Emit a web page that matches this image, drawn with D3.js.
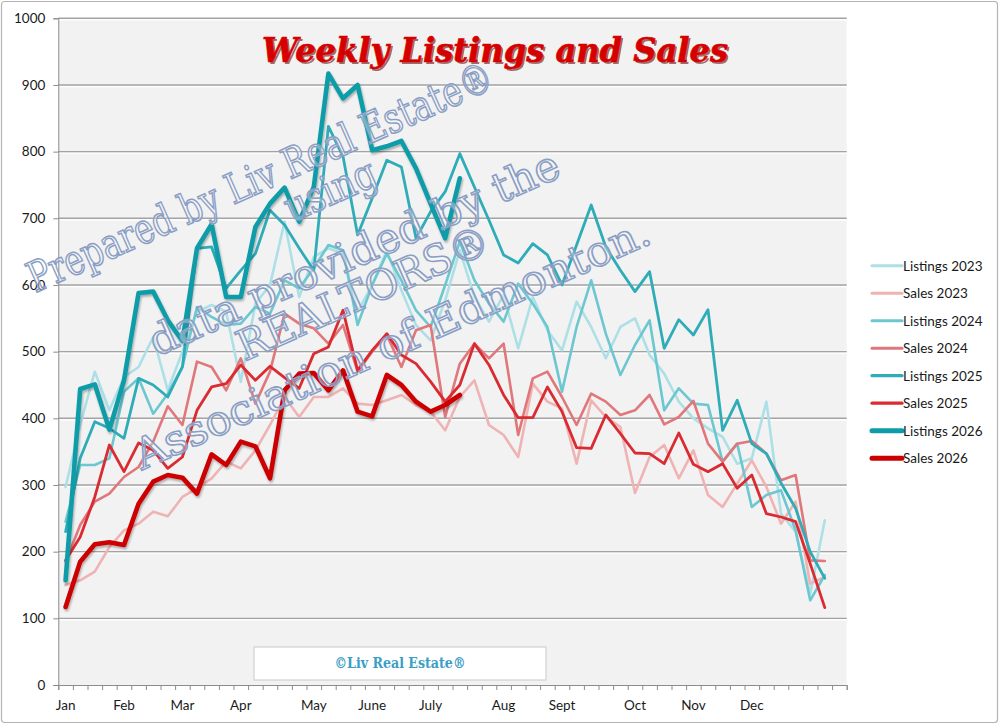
<!DOCTYPE html>
<html>
<head>
<meta charset="utf-8">
<script src="https://cdn.jsdelivr.net/npm/d3@7"></script>
<style>
  body { margin: 0; background: #fff; }
  svg { display: block; }
  text { font-family: Lato, "Liberation Sans", sans-serif; }
</style>
</head>
<body>
<svg id="chart" width="1000" height="726"></svg>
<script>
// ---- data ----
const weekCount = 54;
const months = ["Jan", "Feb", "Mar", "Apr", "May", "June", "July", "Aug", "Sept", "Oct", "Nov", "Dec"];
const monthWeeks = [0, 4, 8, 12, 17, 21, 25, 30, 34, 39, 43, 47];
const yTicks = d3.range(0, 1001, 100);

const seriesNames = ["Listings 2023", "Sales 2023", "Listings 2024", "Sales 2024",
                     "Listings 2025", "Sales 2025", "Listings 2026", "Sales 2026"];

const listings2023 = [297,390,470,412,462,477,522,442,500,560,570,560,455,572,600,695,582,642,655,647,
                      560,600,652,592,540,517,577,652,582,545,585,505,582,532,502,575,537,490,537,550,
                      495,467,425,400,385,372,332,340,425,257,230,137,247];
const sales2023 = [150,157,170,207,232,242,260,253,282,295,310,335,325,352,390,432,402,432,432,445,
                   422,420,427,435,420,410,382,432,457,390,375,342,452,425,415,332,427,402,387,288,
                   342,360,310,352,285,267,302,337,297,242,275,152,162];
const listings2024 = [245,330,330,340,440,460,407,437,477,567,552,540,542,567,557,607,595,625,660,652,
                      540,600,647,607,562,537,600,665,607,572,545,602,572,537,440,537,607,527,465,510,
                      547,412,445,422,420,335,362,267,285,292,232,127,165];
const sales2024 = [185,240,275,287,312,327,365,418,390,485,477,442,490,422,470,557,542,535,512,540,
                   470,500,525,477,532,540,402,482,512,490,512,375,460,470,432,390,437,425,405,412,
                   435,391,402,426,362,335,362,366,347,307,315,187,186];
const listings2025 = [230,340,395,385,370,460,450,432,477,655,657,595,622,647,712,690,655,622,838,793,
                      675,730,787,777,670,710,740,797,747,697,645,633,662,645,600,660,720,657,622,590,
                      620,505,548,525,563,382,427,362,347,303,265,200,160];
const sales2025 = [187,222,282,360,320,363,352,325,342,412,447,452,480,457,478,461,445,497,507,562,
                   472,502,527,495,482,455,425,450,512,480,435,401,401,447,410,356,355,405,377,348,
                   347,332,378,331,320,332,295,315,257,252,245,182,116];
const listings2026 = [157,444,451,383,457,588,590,547,516,655,691,582,582,687,722,746,695,747,917,880,
                      900,802,808,816,775,722,670,760];
const sales2026 = [117,185,211,214,210,272,305,315,311,287,346,330,365,358,310,442,467,468,442,472,
                   410,403,465,450,425,410,420,435];

const seriesValues = [listings2023, sales2023, listings2024, sales2024,
                      listings2025, sales2025, listings2026, sales2026];

const titleText = "Weekly Listings and Sales";
const watermarkLines = ["Prepared by Liv Real Estate®", "using", "data provided by the",
                        "REALTORS®", "Association of Edmonton."];
const creditText = "©Liv Real Estate®";

// ---- styles ----
const seriesColors = ["#ade0e6", "#f0b3b3", "#6cc7d1", "#e0777a",
                      "#2eacb8", "#d92b31", "#0d9ca8", "#cc0000"];
const seriesWidths = [2.6, 2.6, 2.6, 2.6, 2.8, 2.8, 4.6, 4.6];
const slab = "'DejaVu Serif Condensed', 'DejaVu Serif', serif";

const svg = d3.select("#chart");
const plot = { left: 58.3, right: 846.7, top: 18.3, bottom: 685 };

const x = d3.scaleBand().domain(d3.range(weekCount)).range([plot.left, plot.right]);
const xEdge = d3.scaleLinear().domain([0, weekCount]).range([plot.left, plot.right]);
const y = d3.scaleLinear().domain([0, 1000]).range([plot.bottom, plot.top]);

const defs = svg.append("defs");
const shadow = defs.append("filter").attr("id", "shadow")
  .attr("x", "-5%").attr("y", "-5%").attr("width", "110%").attr("height", "110%");
shadow.append("feDropShadow").attr("dx", 1).attr("dy", 2).attr("stdDeviation", 1.2)
  .attr("flood-color", "#000").attr("flood-opacity", 0.3);

// outer frame
svg.append("rect")
  .attr("x", 1.5).attr("y", 1.5).attr("width", 996).attr("height", 721).attr("rx", 3)
  .attr("fill", "#fff").attr("stroke", "#b4b4b4").attr("stroke-width", 1.2);

// plot background
svg.append("rect")
  .attr("x", plot.left).attr("y", plot.top)
  .attr("width", plot.right - plot.left).attr("height", plot.bottom - plot.top)
  .attr("fill", "#f2f2f2");

// gridlines
const grid = svg.append("g");
grid.selectAll("line.hi")
  .data(yTicks.filter(d => d > 0))
  .enter().append("line")
  .attr("class", "hi")
  .attr("x1", plot.left).attr("x2", plot.right)
  .attr("y1", d => y(d) + 1.6).attr("y2", d => y(d) + 1.6)
  .attr("stroke", "#fff").attr("stroke-width", 1.2);
grid.selectAll("line.gl")
  .data(yTicks.filter(d => d > 0))
  .enter().append("line")
  .attr("class", "gl")
  .attr("x1", plot.left).attr("x2", plot.right)
  .attr("y1", d => y(d)).attr("y2", d => y(d))
  .attr("stroke", "#a3a3a3").attr("stroke-width", 1.4);

// y axis
const yAxis = svg.append("g")
  .attr("transform", `translate(${plot.left},0)`)
  .call(d3.axisLeft(y).tickValues(yTicks).tickSize(5).tickPadding(8).tickFormat(d3.format("d")));
yAxis.select(".domain").attr("stroke", "#8c8c8c");
yAxis.selectAll(".tick line").attr("stroke", "#8c8c8c");
yAxis.selectAll("text").style("font-size", "13.5px").attr("fill", "#1a1a1a");

// x axis: tick marks between weeks
const xTicks = svg.append("g")
  .attr("transform", `translate(0,${plot.bottom})`)
  .call(d3.axisBottom(xEdge).tickValues(d3.range(weekCount + 1)).tickSize(5).tickFormat(""));
xTicks.select(".domain").attr("stroke", "#8c8c8c");
xTicks.selectAll(".tick line").attr("stroke", "#8c8c8c");

// x axis: month labels on their weeks
const monthOf = new Map(monthWeeks.map((w, i) => [w, months[i]]));
const xLabels = svg.append("g")
  .attr("transform", `translate(0,${plot.bottom})`)
  .call(d3.axisBottom(x).tickValues(monthWeeks).tickSize(0).tickPadding(15)
    .tickFormat(d => monthOf.get(d)));
xLabels.select(".domain").remove();
xLabels.selectAll("text").style("font-size", "13.5px").attr("fill", "#1a1a1a");

// series lines
const line = d3.line()
  .x((d, i) => x(i) + x.bandwidth() / 2)
  .y(d => y(d));

svg.append("g").selectAll("path")
  .data(seriesValues)
  .enter().append("path")
  .attr("d", d => line(d))
  .attr("fill", "none")
  .attr("stroke", (d, i) => seriesColors[i])
  .attr("stroke-width", (d, i) => seriesWidths[i])
  .attr("stroke-linejoin", "round")
  .attr("stroke-linecap", "round")
  .attr("filter", (d, i) => i >= 6 ? "url(#shadow)" : null);

// watermark
const wmLayout = [
  { cx: 260, cy: 177, len: 505 },
  { cx: 330, cy: 190, len: 96 },
  { cx: 354, cy: 253, len: 445 },
  { cx: 363, cy: 293, len: 272 },
  { cx: 392, cy: 343, len: 560 }
];
svg.append("g").selectAll("text")
  .data(watermarkLines)
  .enter().append("text")
  .attr("transform", (d, i) => `translate(${wmLayout[i].cx},${wmLayout[i].cy}) rotate(-24)`)
  .attr("text-anchor", "middle")
  .attr("dominant-baseline", "central")
  .attr("textLength", (d, i) => wmLayout[i].len)
  .attr("lengthAdjust", "spacingAndGlyphs")
  .style("font-family", slab)
  .style("font-size", "42px")
  .attr("fill", "rgba(255,255,255,0.35)")
  .attr("stroke", "#8a9ec4")
  .attr("stroke-width", 1.5)
  .text(d => d);

// title
const title = svg.append("g");
title.append("text")
  .attr("x", 497).attr("y", 64)
  .attr("text-anchor", "middle")
  .attr("textLength", 466).attr("lengthAdjust", "spacingAndGlyphs")
  .style("font-family", slab)
  .style("font-weight", "bold").style("font-style", "italic")
  .style("font-size", "33px")
  .attr("fill", "#5a0000").attr("opacity", 0.55)
  .text(titleText);
title.append("text")
  .attr("x", 495).attr("y", 62)
  .attr("text-anchor", "middle")
  .attr("textLength", 466).attr("lengthAdjust", "spacingAndGlyphs")
  .style("font-family", slab)
  .style("font-weight", "bold").style("font-style", "italic")
  .style("font-size", "33px")
  .attr("fill", "#d70000")
  .attr("stroke", "#d70000").attr("stroke-width", 0.6)
  .text(titleText);

// credit box
svg.append("rect")
  .attr("x", 254).attr("y", 647).attr("width", 292).attr("height", 33)
  .attr("fill", "#fff").attr("stroke", "#c9c9c9").attr("stroke-width", 1);
svg.append("text")
  .attr("x", 400).attr("y", 668)
  .attr("text-anchor", "middle")
  .attr("textLength", 131).attr("lengthAdjust", "spacingAndGlyphs")
  .style("font-family", slab)
  .style("font-weight", "bold").style("font-size", "14px")
  .attr("fill", "#3a9ec6")
  .text(creditText);

// legend
const legend = svg.append("g").attr("transform", "translate(872,265.7)");
const items = legend.selectAll("g")
  .data(seriesNames)
  .enter().append("g")
  .attr("transform", (d, i) => `translate(0,${i * 27.5})`);
items.append("line")
  .attr("x1", 0).attr("x2", 30)
  .attr("stroke", (d, i) => seriesColors[i])
  .attr("stroke-width", (d, i) => seriesWidths[i] + 0.4)
  .attr("stroke-linecap", "round");
items.append("text")
  .attr("x", 31).attr("y", 0)
  .attr("dominant-baseline", "central")
  .style("font-size", "13.5px")
  .attr("fill", "#1a1a1a")
  .text(d => d);
</script>
</body>
</html>
